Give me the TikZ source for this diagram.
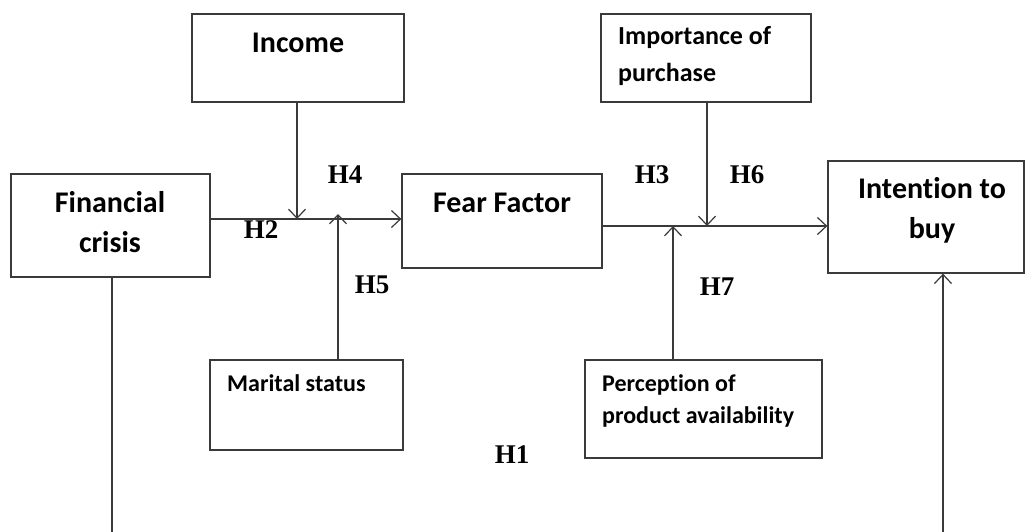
\documentclass[tikz,border=0pt]{standalone}
\usepackage{fontspec}
\setmainfont{Carlito}[Ligatures={NoCommon}]
\newfontfamily\hfont{Liberation Serif}
\usetikzlibrary{arrows.meta}
\definecolor{linegray}{HTML}{3A3A3A}
\tikzset{
  box/.style={draw=linegray, line width=1.3pt, rectangle, inner sep=0pt},
  conn/.style={draw=linegray, line width=1.2pt},
  arr/.style={conn, -{Straight Barb[length=9pt,width=17pt,line width=1.2pt]}},
  lbl/.style={font=\bfseries\fontsize{30}{40}\selectfont, inner sep=0pt, align=center},
  lblmid/.style={font=\bfseries\fontsize{26}{37}\selectfont, inner sep=0pt, align=left},
  lblsmall/.style={font=\bfseries\fontsize{24}{32}\selectfont, inner sep=0pt, align=left},
  hyp/.style={font=\hfont\bfseries\fontsize{27}{30}\selectfont, inner sep=0pt}
}
\begin{document}
\begin{tikzpicture}[x=1pt,y=-1pt]
\useasboundingbox (0,0) rectangle (1025,531);
\clip (0,0) rectangle (1025,531);
% boxes
\node[box, minimum width=212pt, minimum height=88pt] (inc) at (298,58) {};
\node[box, minimum width=199pt, minimum height=103pt] (fc) at (110.5,225.5) {};
\node[box, minimum width=200pt, minimum height=94pt] (ff) at (502,221) {};
\node[box, minimum width=210pt, minimum height=88pt] (imp) at (706,58) {};
\node[box, minimum width=196pt, minimum height=112pt] (itb) at (926,217) {};
\node[box, minimum width=193pt, minimum height=90pt] (ms) at (306.5,405) {};
\node[box, minimum width=237pt, minimum height=98pt] (pa) at (703.5,409) {};
% texts
\node[lbl] (tinc) at (298,43) {Income};
\node[lbl] (tfc) at (110,222) {Financial\\crisis};
\node[lbl] (tff) at (502,203) {Fear Factor};
\node[lbl] (titb) at (932,210) {Intention to\\buy};
\node[lblmid, anchor=west] (timp) at (618,56) {Importance of\\purchase};
\node[lblsmall, anchor=west] (tms) at (227,383) {Marital status};
\node[lblsmall, anchor=west] (tpa) at (602,401) {Perception of\\product availability};
% junction coordinates
\coordinate (j1) at (297,219);
\coordinate (j2) at (338,219);
\coordinate (j3) at (673,226);
\coordinate (j4) at (707,226);
% main connectors
\draw[arr] (fc.east |- j1) -- (ff.west |- j1);
\draw[arr] (ff.east |- j3) -- (itb.west |- j3);
% moderators
\draw[arr] (inc.south -| j1) -- (j1);
\draw[arr] (ms.north -| j2) -- ([yshift=5pt]j2);
\draw[arr] (imp.south -| j4) -- (j4);
\draw[arr] (pa.north -| j3) -- (j3);
% H1 path (runs below the visible area)
\coordinate (b1) at (112,560);
\coordinate (b2) at (943,560);
\draw[arr] (fc.south -| b1) -- (b1) -- (b2) -- (itb.south -| b2);
% hypothesis labels
\node[hyp] (h2) at (261,230) {H2};
\node[hyp] (h4) at (345,175) {H4};
\node[hyp] (h5) at (372,285) {H5};
\node[hyp] (h3) at (652,175) {H3};
\node[hyp] (h6) at (747,175) {H6};
\node[hyp] (h7) at (717,287) {H7};
\node[hyp] (h1) at (512,455) {H1};
\end{tikzpicture}
\end{document}
